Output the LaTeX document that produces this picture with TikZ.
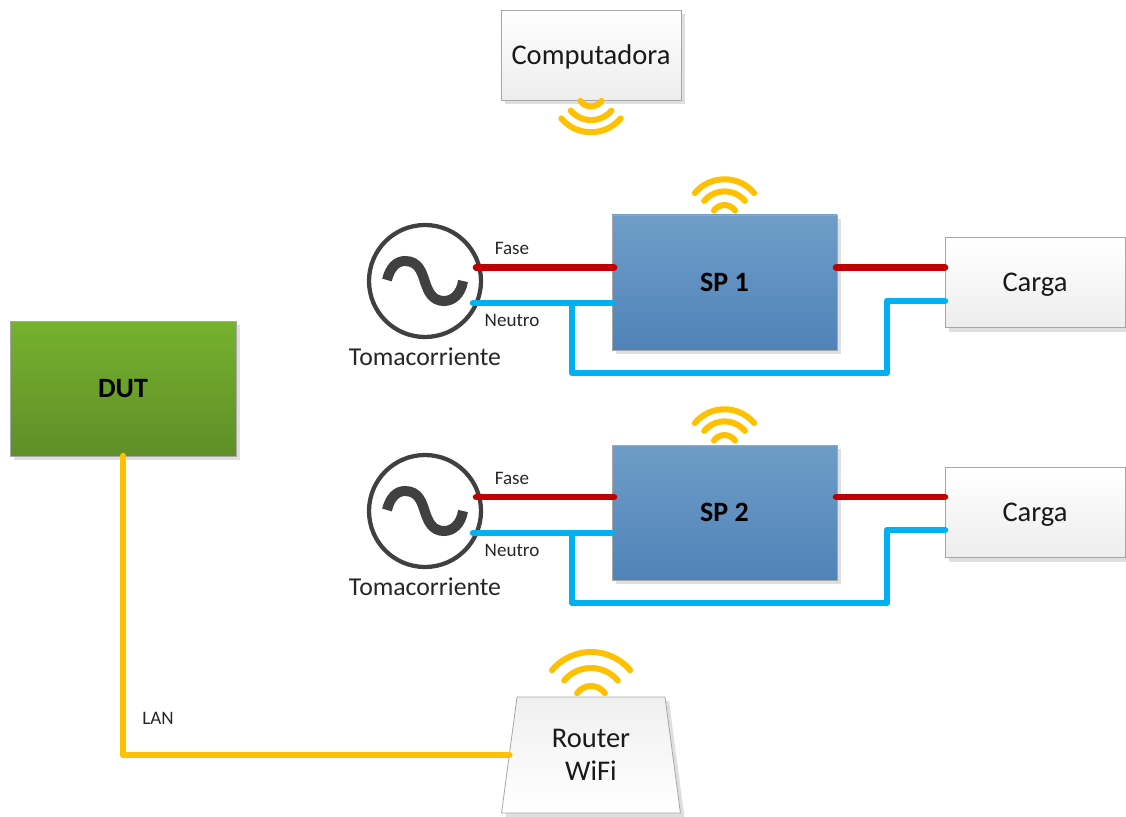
\documentclass[tikz,border=0pt]{standalone}
\usepackage{fontspec}
\setmainfont{Carlito}
\usetikzlibrary{positioning,shapes.geometric,shadows}
\tikzset{
  wifi/.pic={
    \draw[signal] (-40:51) arc (-40:-140:51);
    \draw[signal] (-40:35) arc (-40:-140:35);
    \draw[signal] (-35:17) arc (-35:-145:17);
  },
  wave/.pic={
    \draw[line width=7.5pt, draw=black!75] (-38,-1) .. controls (-35,-14) and (-28,-20) .. (-20,-20)
      .. controls (-6,-20) and (-3,-8) .. (0,1) .. controls (3,10) and (7,20) .. (19,20)
      .. controls (28,20) and (36,13) .. (38,0);
  }
}
\begin{document}
\begin{tikzpicture}[x=0.75pt, y=-0.75pt]
\tikzstyle{block}=[rectangle, draw=black!35, line width=0.6pt, inner sep=0pt, outer sep=0pt, font=\fontsize{21.4}{25}\selectfont, drop shadow={shadow xshift=3pt, shadow yshift=-3pt, fill=black!25}]
\tikzstyle{load}=[block, top color=white, bottom color=black!7, text=black!90, minimum width=135pt, minimum height=67.5pt, text height=17pt, text depth=3pt]
\tikzstyle{power}=[block, top color=blue1, bottom color=blue2, minimum width=168.75pt, minimum height=101.25pt, font=\fontsize{21}{25}\selectfont\bfseries]
\tikzstyle{source}=[circle, draw=black!75, line width=3.2pt, minimum size=84pt, inner sep=0pt, outer sep=0pt]
\tikzstyle{tag}=[font=\fontsize{14.3}{16}\selectfont, text=black!85, inner sep=0pt]
\tikzstyle{fase}=[draw=wirered, line width=4.9pt, line cap=round, line join=round]
\tikzstyle{neutro}=[draw=wireblue, line width=4.9pt, line cap=round, line join=round]
\tikzstyle{lan}=[draw=wifiorange, line width=4.9pt, line cap=round, line join=round]
\tikzstyle{signal}=[draw=wifiorange, line width=4.5pt, line cap=round]
\definecolor{blue1}{HTML}{6F9DC8}
\definecolor{blue2}{HTML}{5083B8}
\definecolor{green1}{HTML}{76B12E}
\definecolor{green2}{HTML}{5F8F28}
\definecolor{wirered}{HTML}{C00000}
\definecolor{wireblue}{HTML}{00B0F0}
\definecolor{wifiorange}{HTML}{FFC000}
  \useasboundingbox (0,0) rectangle (1126,816);
  \node[load] (pc) at (591,55) { Computadora };
  \node[power] (sp1) at (724.5,282.5) { SP 1 };
  \node[power] (sp2) [below=71.25pt of sp1] { SP 2 };
  \node[load] (load1) [right=81pt of sp1] { Carga };
  \node[load] (load2) [right=81pt of sp2] { Carga };
  \node[source] (src1) at (425,281) {};
  \node[source] (src2) [below=88.5pt of src1] {};
  \node[block, top color=green1, bottom color=green2, minimum width=169.5pt, minimum height=101.25pt, font=\fontsize{21}{25}\selectfont\bfseries] (dut) at (123,388.5) { DUT };
  \node[block, top color=black!6, bottom color=white, text=black!90, trapezium, trapezium left angle=81, trapezium right angle=81, trapezium stretches=true, minimum width=135pt, minimum height=87pt, align=center] (router) at (591,755) { Router\\WiFi };
  % wire ends
  \coordinate (f1a) at (476,267.5);
  \coordinate (f1b) at (614,267.5);
  \coordinate (f1c) at (836,267.5);
  \coordinate (f1d) at (945,267.5);
  \coordinate (n1a) at (473,303);
  \coordinate (n1b) at (612,303);
  \coordinate (n1c) at (572,303);
  \coordinate (n1d) at (945,301);
  \coordinate (f2a) at (476,497);
  \coordinate (f2b) at (614,497);
  \coordinate (f2c) at (836,497);
  \coordinate (f2d) at (945,497);
  \coordinate (n2a) at (473,533);
  \coordinate (n2b) at (612,533);
  \coordinate (n2c) at (572,533);
  \coordinate (n2d) at (945,530);
  \path (f1a) edge [fase] (f1b)
        (f1c) edge [fase] (f1d)
        (n1a) edge [neutro] (n1b)
        (f2a) edge [fase] (f2b)
        (f2c) edge [fase] (f2d)
        (n2a) edge [neutro] (n2b);
  \draw[neutro] (n1c) -- (572,373) -- (887,373) -- (887,301) -- (n1d);
  \draw[neutro] (n2c) -- (572,603) -- (887,603) -- (887,530) -- (n2d);
  \draw[lan] (dut.south) |- (router.west);
  \node[tag] (fase1) at (512,248) {Fase};
  \node[tag] (neutro1) at (512,320) {Neutro};
  \node[tag] (fase2) at (512,478) {Fase};
  \node[tag] (neutro2) at (512,550) {Neutro};
  \node[tag] (lanlabel) at (158,718) {LAN};
  \node[tag, font=\fontsize{19.3}{22}\selectfont] (toma1) at (425,357) {Tomacorriente};
  \node[tag, font=\fontsize{19.3}{22}\selectfont] (toma2) at (425,587) {Tomacorriente};
  \pic at (src1.center) {wave};
  \pic at (src2.center) {wave};
  \pic[yscale=-0.76, xscale=0.76] at (591,93.5) {wifi};
  \pic[xscale=0.76, yscale=0.76] at (724.5,218) {wifi};
  \pic[xscale=0.76, yscale=0.76] at (724.5,448) {wifi};
  \pic at (591,703) {wifi};
\end{tikzpicture}
\end{document}
